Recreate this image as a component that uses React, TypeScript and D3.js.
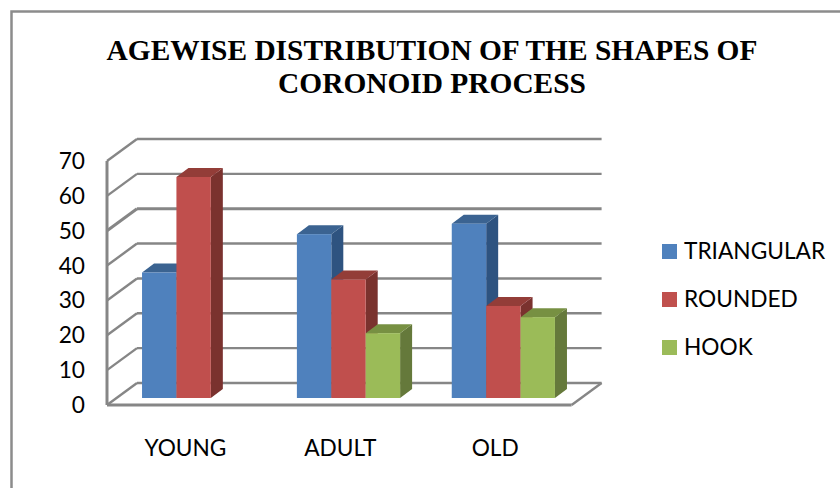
import React from "react";
import * as d3 from "d3";

const categories = ["YOUNG", "ADULT", "OLD"];
const seriesNames = ["TRIANGULAR", "ROUNDED", "HOOK"];
const triangular = [36, 47, 50];
const rounded = [63.4, 34, 26.4];
const hook = [0, 18.6, 23.2];
const yTicks = [0, 10, 20, 30, 40, 50, 60, 70];
const titleLines = ["AGEWISE DISTRIBUTION OF THE SHAPES OF", "CORONOID PROCESS"];

const colors = ["#4F81BD", "#C0504D", "#9BBB59"];
const tops = ["#3A6391", "#933C39", "#779043"];
const sides = ["#2F5380", "#7A302E", "#65793A"];
const values = [triangular, rounded, hook];

const W = 840, H = 488;
const DX = 30, DY = -22;
const x = d3.scaleBand<string>().domain(categories).range([107, 571.6]);
const y = d3.scaleLinear().domain([0, 70]).range([405, 161]);
const BW = 34.4;
const OX = 9.2, OY = -7;
const BDX = 12, BDY = -9;
const path = d3.line();

export default function App() {
  const grid = "#868686";
  return (
    <svg width={W} height={H} style={{ position: "absolute", left: 0, top: 0, background: "#fff" }}>
      <defs>
        <filter id="soft" x="-5%" y="-5%" width="110%" height="110%">
          <feGaussianBlur stdDeviation="0.45" />
        </filter>
      </defs>
      <path d={`M11.5 488V11.5H840`} fill="none" stroke="#8c8c8c" strokeWidth={2.5} />
      {titleLines.map((t, i) => (
        <text key={t} x={432} y={60 + i * 33} textAnchor="middle" fontFamily="Liberation Serif" fontWeight="bold" fontSize={29.4} fill="#000">{t}</text>
      ))}
      <g filter="url(#soft)">
        {yTicks.map((t) => (
          <g key={t} stroke={grid} strokeWidth={t === 50 ? 3 : 2.4} fill="none">
            <line x1={107} y1={y(t)} x2={107 + DX} y2={y(t) + DY} />
            <line x1={107 + DX} y1={y(t) + DY} x2={571.6 + DX} y2={y(t) + DY} />
          </g>
        ))}
        <line x1={107} y1={y(0)} x2={107} y2={y(70)} stroke={grid} strokeWidth={3} />
        <line x1={107} y1={y(0)} x2={571.6} y2={y(0)} stroke={grid} strokeWidth={3} />
        <line x1={571.6} y1={y(0)} x2={571.6 + DX} y2={y(0) + DY} stroke={grid} strokeWidth={2.4} />
        {categories.map((c, ci) => {
          const groupLeft = x(c)! + x.bandwidth() / 2 - (BW * 3) / 2 + OX;
          return (
            <g key={c}>
              {[0, 1, 2].map((si) => {
                const v = values[si][ci];
                if (!v) return null;
                const l = groupLeft + si * BW;
                const r = l + BW;
                const base = y(0) + OY;
                const top = y(v) + OY;
                return (
                  <g key={si}>
                    <path fill={sides[si]} d={path([[r, top], [r + BDX, top + BDY], [r + BDX, base + BDY], [r, base]])!} />
                    <path fill={tops[si]} d={path([[l, top], [l + BDX, top + BDY], [r + BDX, top + BDY], [r, top]])!} />
                    <rect x={l} y={top} width={BW} height={base - top} fill={colors[si]} />
                  </g>
                );
              })}
            </g>
          );
        })}
      </g>
      {yTicks.map((t) => (
        <text key={t} x={85} y={y(t) + 8} textAnchor="end" fontFamily="Lato" fontSize={22.7} fill="#000">{t}</text>
      ))}
      {categories.map((c) => (
        <text key={c} x={x(c)! + x.bandwidth() / 2 + 1} y={456} textAnchor="middle" fontFamily="Lato" fontSize={22.7} fill="#000">{c}</text>
      ))}
      {seriesNames.map((s, i) => (
        <g key={s}>
          <rect x={662} y={244 + i * 48} width={15} height={15} fill={colors[i]} />
          <text x={684} y={259 + i * 48} fontFamily="Lato" fontSize={22.7} fill="#000">{s}</text>
        </g>
      ))}
    </svg>
  );
}
